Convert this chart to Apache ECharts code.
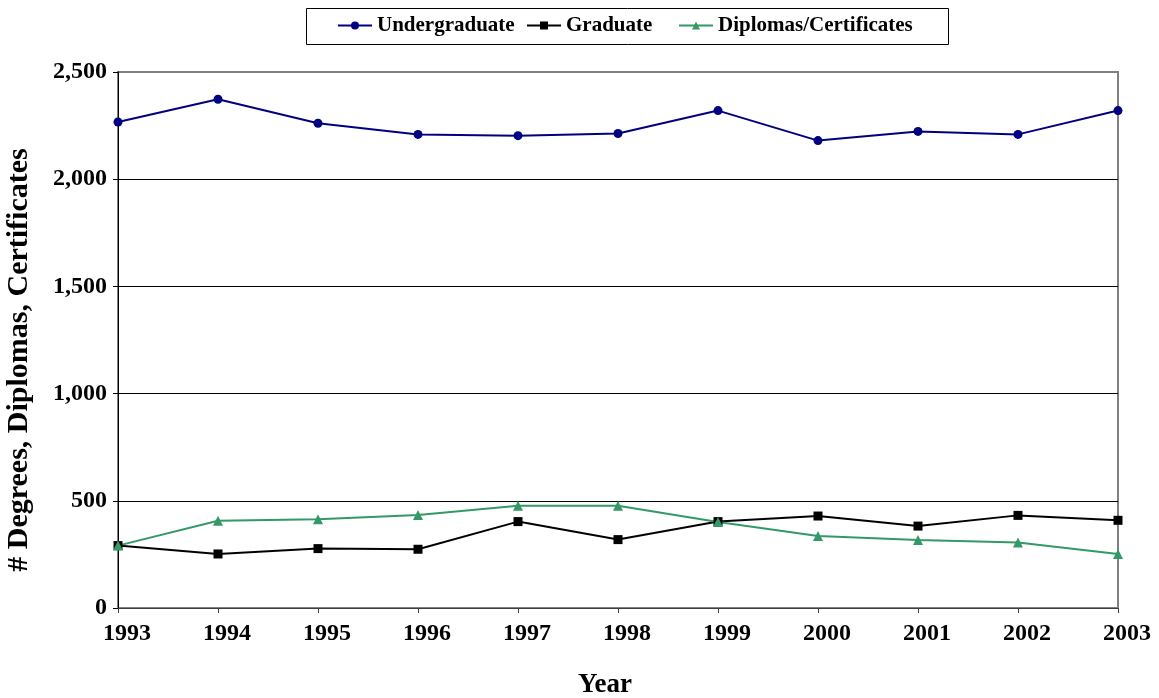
<!DOCTYPE html>
<html>
<head>
<meta charset="utf-8">
<script src="https://cdn.jsdelivr.net/npm/echarts@6/dist/echarts.min.js"></script>
<style>
html,body{margin:0;padding:0;background:#fff;}
#c{width:1159px;height:698px;}
</style>
</head>
<body>
<div id="c"></div>
<script>
const years = ['1993','1994','1995','1996','1997','1998','1999','2000','2001','2002','2003'];
const undergraduate = [2267, 2373, 2261, 2209, 2203, 2213, 2320, 2180, 2223, 2209, 2320];
const graduate = [291, 252, 277, 274, 403, 319, 403, 429, 382, 432, 409];
const diplomas = [291, 407, 414, 434, 477, 477, 401, 336, 317, 306, 252];
const yTicks = [0, 500, 1000, 1500, 2000, 2500];
const seriesNames = ['Undergraduate', 'Graduate', 'Diplomas/Certificates'];

const FONT = "'Liberation Serif', 'Times New Roman', serif";
const legendText = {fontFamily: FONT, fontWeight: 'bold', fontSize: 21, color: '#000'};
function legendAt(name, left) {
  return {
    top: 15, left: left, padding: 0,
    itemWidth: 34, itemHeight: 10, itemGap: 0,
    textStyle: legendText,
    data: [name]
  };
}
const chart = echarts.init(document.getElementById('c'), null, {renderer: 'canvas'});
chart.setOption({
  animation: false,
  backgroundColor: '#fff',
  textStyle: {fontFamily: FONT},
  graphic: [{
    type: 'rect', left: 306, top: 8, z: 0,
    shape: {width: 642, height: 36},
    style: {fill: '#fff', stroke: '#000', lineWidth: 1}
  }],
  legend: [
    legendAt(seriesNames[0], 337),
    legendAt(seriesNames[1], 526),
    legendAt(seriesNames[2], 678)
  ],
  grid: {
    left: 118, right: 41, top: 72, bottom: 90,
    containLabel: false,
    outerBoundsMode: 'none',
    show: true, borderColor: '#808080', borderWidth: 2, backgroundColor: 'transparent'
  },
  xAxis: {
    type: 'category',
    data: years,
    boundaryGap: false,
    name: 'Year',
    nameLocation: 'middle',
    nameGap: 64,
    nameTextStyle: {fontFamily: FONT, fontWeight: 'bold', fontSize: 27, color: '#000', padding: [0, 26, 0, 0]},
    axisLine: {lineStyle: {color: '#404040', width: 1}},
    axisTick: {show: true, alignWithLabel: true, length: 5, lineStyle: {color: '#404040'}},
    axisLabel: {fontFamily: FONT, fontWeight: 'bold', fontSize: 24, color: '#000', margin: 14, padding: [0, 0, 0, 18]},
    splitLine: {show: false}
  },
  yAxis: {
    type: 'value',
    min: yTicks[0],
    max: yTicks[yTicks.length - 1],
    interval: 500,
    name: '# Degrees, Diplomas, Certificates',
    nameLocation: 'middle',
    nameGap: 84,
    nameRotate: 90,
    nameTextStyle: {fontFamily: FONT, fontWeight: 'bold', fontSize: 30, color: '#000', padding: [0, 40, 0, 0]},
    axisLine: {show: true, lineStyle: {color: '#000', width: 1}},
    axisTick: {show: true, length: 5, lineStyle: {color: '#000'}},
    axisLabel: {
      fontFamily: FONT, fontWeight: 'bold', fontSize: 24, color: '#000', margin: 11,
      formatter: v => v.toLocaleString('en-US')
    },
    splitLine: {show: true, lineStyle: {color: ['#000', '#000', '#000', '#000', '#000', '#808080'], width: 1}}
  },
  series: [
    {
      name: seriesNames[0], type: 'line', data: undergraduate,
      symbol: 'circle', symbolSize: 9,
      lineStyle: {color: '#000080', width: 2},
      itemStyle: {color: '#000080'}
    },
    {
      name: seriesNames[1], type: 'line', data: graduate,
      symbol: 'rect', symbolSize: 9,
      lineStyle: {color: '#000', width: 2},
      itemStyle: {color: '#000'}
    },
    {
      name: seriesNames[2], type: 'line', data: diplomas,
      symbol: 'triangle', symbolSize: 10,
      lineStyle: {color: '#339966', width: 2},
      itemStyle: {color: '#339966'}
    }
  ]
});
</script>
</body>
</html>
